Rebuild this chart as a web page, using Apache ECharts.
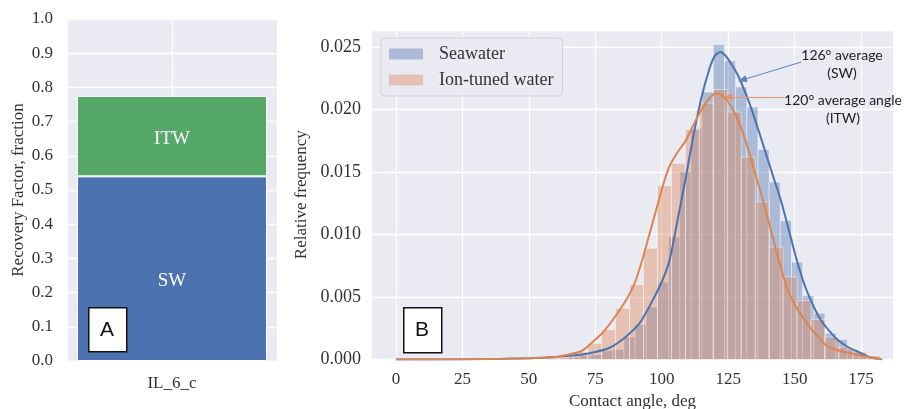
<!DOCTYPE html>
<html>
<head>
<meta charset="utf-8">
<script src="https://cdn.jsdelivr.net/npm/echarts@6/dist/echarts.min.js"></script>
<style>html,body{margin:0;padding:0;background:#fff;}#main{width:910px;height:409px;}</style>
</head>
<body>
<div id="main"></div>
<script>
// ---------- Panel A data ----------
const categoriesA = ['IL_6_c'];
const swRecovery = [0.54];
const itwRecovery = [0.235];
const yTicksA = [0, 0.1, 0.2, 0.3, 0.4, 0.5, 0.6, 0.7, 0.8, 0.9, 1.0];

// ---------- Panel B data (histograms: left bin edge, height) ----------
const swBinWidth = 4.2;
const swBinLeft = [56.4, 60.6, 64.8, 69.0, 73.2, 77.4, 81.6, 85.8, 90.0, 94.2, 98.4, 102.6, 106.8, 111.0, 115.2,
  119.4, 123.6, 127.8, 132.0, 136.2, 140.4, 144.6, 148.8, 153.0, 157.2, 161.4, 165.6, 169.8, 174.0, 178.2];
const swHeights = [0.0001, 0.0001, 0.0002, 0.0003, 0.0004, 0.0007, 0.0008, 0.0018, 0.0028, 0.0042, 0.0062, 0.0098, 0.0150, 0.0185, 0.0214,
  0.0252, 0.0239, 0.0218, 0.0202, 0.0168, 0.0142, 0.0111, 0.0078, 0.0051, 0.0037, 0.0021, 0.0016, 0.0008, 0.0003, 0.0001];

const itwBinWidth = 5.25;
const itwBinLeft = [56.4, 61.65, 66.9, 72.15, 77.4, 82.65, 87.9, 93.15, 98.4, 103.65, 108.9, 114.15,
  119.4, 124.65, 129.9, 135.15, 140.4, 145.65, 150.9, 156.15, 161.4, 166.65, 171.9, 177.15];
const itwHeights = [0.0001, 0.0002, 0.0006, 0.0013, 0.0024, 0.0041, 0.0060, 0.0089, 0.0139, 0.0157, 0.0184, 0.0205,
  0.0216, 0.0198, 0.0162, 0.0126, 0.0090, 0.0066, 0.0047, 0.0032, 0.0018, 0.0010, 0.0006, 0.0003];

// ---------- KDE curves ----------
const swKdeX = [0, 10, 20, 30, 40, 50, 60, 65, 70, 75, 80, 84, 88, 92, 96, 100, 103, 106, 109, 112, 115, 118, 120, 122, 124, 126, 128, 130,
  133, 136, 139, 142, 145, 148, 151, 154, 157, 160, 163, 166, 170, 174, 178, 182];
const swKdeY = [0, 0, 0, 0.00002, 0.00005, 0.0001, 0.0002, 0.0003, 0.0004, 0.0006, 0.0009, 0.0014, 0.0021, 0.0030, 0.0045, 0.0062, 0.0080,
  0.0112, 0.0145, 0.0180, 0.0210, 0.0233, 0.0243, 0.0246, 0.0243, 0.0237, 0.0230, 0.0221, 0.0205, 0.0186, 0.0166, 0.0146, 0.0126, 0.0102,
  0.0078, 0.0058, 0.0043, 0.0031, 0.0023, 0.0016, 0.0010, 0.0006, 0.0002, 0.00005];

const itwKdeX = [0, 10, 20, 30, 40, 50, 55, 60, 65, 70, 74, 78, 81, 84, 87, 90, 93, 96, 99, 101, 103, 106, 109, 112, 115, 118, 120.5, 123,
  126, 129, 132, 135, 138, 141, 144, 147, 150, 153, 156, 159, 162, 166, 171, 178, 183];
const itwKdeY = [0, 0, 0.00001, 0.00003, 0.00006, 0.0001, 0.00015, 0.0002, 0.0004, 0.0007, 0.0014, 0.0022, 0.0030, 0.0039, 0.0049, 0.0062,
  0.0082, 0.0105, 0.0128, 0.0143, 0.0155, 0.0166, 0.0175, 0.0188, 0.0200, 0.0209, 0.0213, 0.0211, 0.0203, 0.0190, 0.0172, 0.0150, 0.0128,
  0.0104, 0.0080, 0.0058, 0.0044, 0.0034, 0.0025, 0.0018, 0.0011, 0.00076, 0.0005, 0.0002, 0];

const xTicksB = [0, 25, 50, 75, 100, 125, 150, 175];
const yTicksB = [0, 0.005, 0.010, 0.015, 0.020, 0.025];

// ---------- build ----------
const SERIF = 'Liberation Serif';
const TXT = '#333333';
const BG = '#EAEAF2';
const BLUE = '#4C72B0', ORANGE = '#DD8452', GREEN = '#55A868';
const BLUE_A = 'rgba(76,114,176,0.4)', ORANGE_A = 'rgba(221,132,82,0.4)';

function histData(lefts, width, heights) {
  return lefts.map((l, i) => [l, l + width, heights[i]]);
}
function zip(xs, ys) { return xs.map((x, i) => [x, ys[i]]); }

function renderHist(color) {
  return function (params, api) {
    const p0 = api.coord([api.value(0), api.value(2)]);
    const p1 = api.coord([api.value(1), 0]);
    return {
      type: 'rect',
      shape: { x: p0[0], y: p0[1], width: p1[0] - p0[0], height: p1[1] - p0[1] },
      style: { fill: color, stroke: 'rgba(255,255,255,0.45)', lineWidth: 1 }
    };
  };
}

const chart = echarts.init(document.getElementById('main'), null, { renderer: 'canvas' });

const option = {
  animation: false,
  backgroundColor: '#ffffff',
  textStyle: { fontFamily: SERIF, color: TXT },
  grid: [
    { left: 67, top: 19, width: 210, height: 342, show: true, backgroundColor: BG, borderWidth: 0,
      containLabel: false, outerBoundsMode: 'none' },
    { left: 372, top: 30, width: 521, height: 329.5, show: true, backgroundColor: BG, borderWidth: 0,
      containLabel: false, outerBoundsMode: 'none' }
  ],
  xAxis: [
    {
      gridIndex: 0, type: 'category', data: categoriesA, boundaryGap: true,
      axisLine: { show: false }, axisTick: { show: false },
      axisLabel: { fontFamily: SERIF, fontSize: 17, color: TXT, margin: 14 },
      splitLine: { show: false }
    },
    {
      gridIndex: 1, type: 'value', min: -9, max: 187,
      axisLine: { show: false },
      axisTick: { show: false, customValues: xTicksB },
      axisLabel: { fontFamily: SERIF, fontSize: 17, color: TXT, margin: 12, customValues: xTicksB },
      splitLine: { show: true, lineStyle: { color: '#ffffff', width: 1.3 } },
      name: 'Contact angle, deg', nameLocation: 'middle', nameGap: 30,
      nameTextStyle: { fontFamily: SERIF, fontSize: 17, color: TXT }
    },
    {
      gridIndex: 0, type: 'value', min: -0.5, max: 0.5, interval: 0.5,
      axisLine: { show: false }, axisTick: { show: false }, axisLabel: { show: false },
      splitLine: { show: true, lineStyle: { color: '#ffffff', width: 1.3 } }
    }
  ],
  yAxis: [
    {
      gridIndex: 0, type: 'value', min: 0, max: 1, interval: 0.1,
      axisLine: { show: false }, axisTick: { show: false },
      axisLabel: { fontFamily: SERIF, fontSize: 17, color: TXT, margin: 14, formatter: v => v.toFixed(1) },
      splitLine: { show: true, lineStyle: { color: '#ffffff', width: 1.3 } },
      name: 'Recovery Factor, fraction', nameLocation: 'middle', nameGap: 40, nameRotate: 90,
      nameTextStyle: { fontFamily: SERIF, fontSize: 17, color: TXT }
    },
    {
      gridIndex: 1, type: 'value', min: 0, max: 0.02636, interval: 0.005,
      axisLine: { show: false }, axisTick: { show: false },
      axisLabel: { fontFamily: SERIF, fontSize: 18, color: TXT, margin: 11, showMaxLabel: false,
        formatter: v => v.toFixed(3) },
      splitLine: { show: true, lineStyle: { color: '#ffffff', width: 1.3 } },
      name: 'Relative frequency', nameLocation: 'middle', nameGap: 58, nameRotate: 90,
      nameTextStyle: { fontFamily: SERIF, fontSize: 17, color: TXT }
    }
  ],
  legend: {
    left: 381, top: 38, orient: 'vertical',
    data: ['Seawater', 'Ion-tuned water'],
    icon: 'rect', itemWidth: 34, itemHeight: 11, itemGap: 8,
    backgroundColor: 'rgba(234,234,242,0.85)', borderColor: '#cfcfd8', borderWidth: 1, borderRadius: 4,
    padding: [7, 9, 7, 8],
    textStyle: { fontFamily: SERIF, fontSize: 18, color: TXT, lineHeight: 18, padding: [0, 0, 0, 11] }
  },
  series: [
    {
      type: 'bar', name: 'SW', xAxisIndex: 0, yAxisIndex: 0, stack: 'rf', barWidth: 190,
      data: swRecovery,
      itemStyle: { color: BLUE, borderColor: '#ffffff', borderWidth: 1 },
      label: { show: true, position: 'inside', formatter: 'SW', color: '#ffffff', fontFamily: SERIF, fontSize: 19, offset: [0, 12] }
    },
    {
      type: 'bar', name: 'ITW', xAxisIndex: 0, yAxisIndex: 0, stack: 'rf', barWidth: 190,
      data: itwRecovery,
      itemStyle: { color: GREEN, borderColor: '#ffffff', borderWidth: 1 },
      label: { show: true, position: 'inside', formatter: 'ITW', color: '#ffffff', fontFamily: SERIF, fontSize: 19, offset: [0, 3] }
    },
    {
      type: 'custom', name: 'Seawater', xAxisIndex: 1, yAxisIndex: 1,
      data: histData(swBinLeft, swBinWidth, swHeights),
      encode: { x: [0, 1], y: 2 },
      itemStyle: { color: BLUE_A },
      renderItem: renderHist(BLUE_A), z: 2
    },
    {
      type: 'line', name: 'Seawater KDE', xAxisIndex: 1, yAxisIndex: 1,
      data: zip(swKdeX, swKdeY), smooth: 0.25, showSymbol: false,
      lineStyle: { color: BLUE, width: 2 }, itemStyle: { color: BLUE }, z: 2,
      markLine: {
        silent: true, symbol: ['none', 'triangle'], symbolSize: [7, 9], label: { show: false },
        lineStyle: { color: '#5b83c2', width: 1, type: 'solid' },
        data: [[{ coord: [152.5, 0.0238] }, { coord: [130.3, 0.02236] }]]
      }
    },
    {
      type: 'custom', name: 'Ion-tuned water', xAxisIndex: 1, yAxisIndex: 1,
      data: histData(itwBinLeft, itwBinWidth, itwHeights),
      encode: { x: [0, 1], y: 2 },
      itemStyle: { color: ORANGE_A },
      renderItem: renderHist(ORANGE_A), z: 2
    },
    {
      type: 'line', name: 'Ion-tuned water KDE', xAxisIndex: 1, yAxisIndex: 1,
      data: zip(itwKdeX, itwKdeY), smooth: 0.25, showSymbol: false,
      lineStyle: { color: ORANGE, width: 2 }, itemStyle: { color: ORANGE }, z: 2,
      markLine: {
        silent: true, symbol: ['none', 'triangle'], symbolSize: [7, 9], label: { show: false },
        lineStyle: { color: '#e8916a', width: 1, type: 'solid' },
        data: [[{ coord: [146.1, 0.0210] }, { coord: [125.0, 0.0210] }]]
      }
    }
  ],
  graphic: [
    { type: 'rect', left: 88, top: 307, shape: { width: 38, height: 44 }, style: { fill: '#ffffff', stroke: '#111111', lineWidth: 1.5 }, z: 100 },
    { type: 'text', x: 107, y: 330, style: { text: 'A', font: '21px "Liberation Sans"', fill: '#111111', align: 'center', verticalAlign: 'middle' }, z: 101 },
    { type: 'rect', left: 403, top: 307, shape: { width: 38, height: 45 }, style: { fill: '#ffffff', stroke: '#111111', lineWidth: 1.5 }, z: 100 },
    { type: 'text', x: 422, y: 330, style: { text: 'B', font: '21px "Liberation Sans"', fill: '#111111', align: 'center', verticalAlign: 'middle' }, z: 101 },
    { type: 'text', x: 842, y: 46, style: { text: '126° average\n(SW)', font: '14px Lato', lineHeight: 18, fill: '#222222', align: 'center', verticalAlign: 'top' }, z: 101 },
    { type: 'text', x: 843, y: 91, style: { text: '120° average angle\n(ITW)', font: '14px Lato', lineHeight: 18, fill: '#222222', align: 'center', verticalAlign: 'top' }, z: 101 }
  ]
};
chart.setOption(option);
</script>
</body>
</html>
